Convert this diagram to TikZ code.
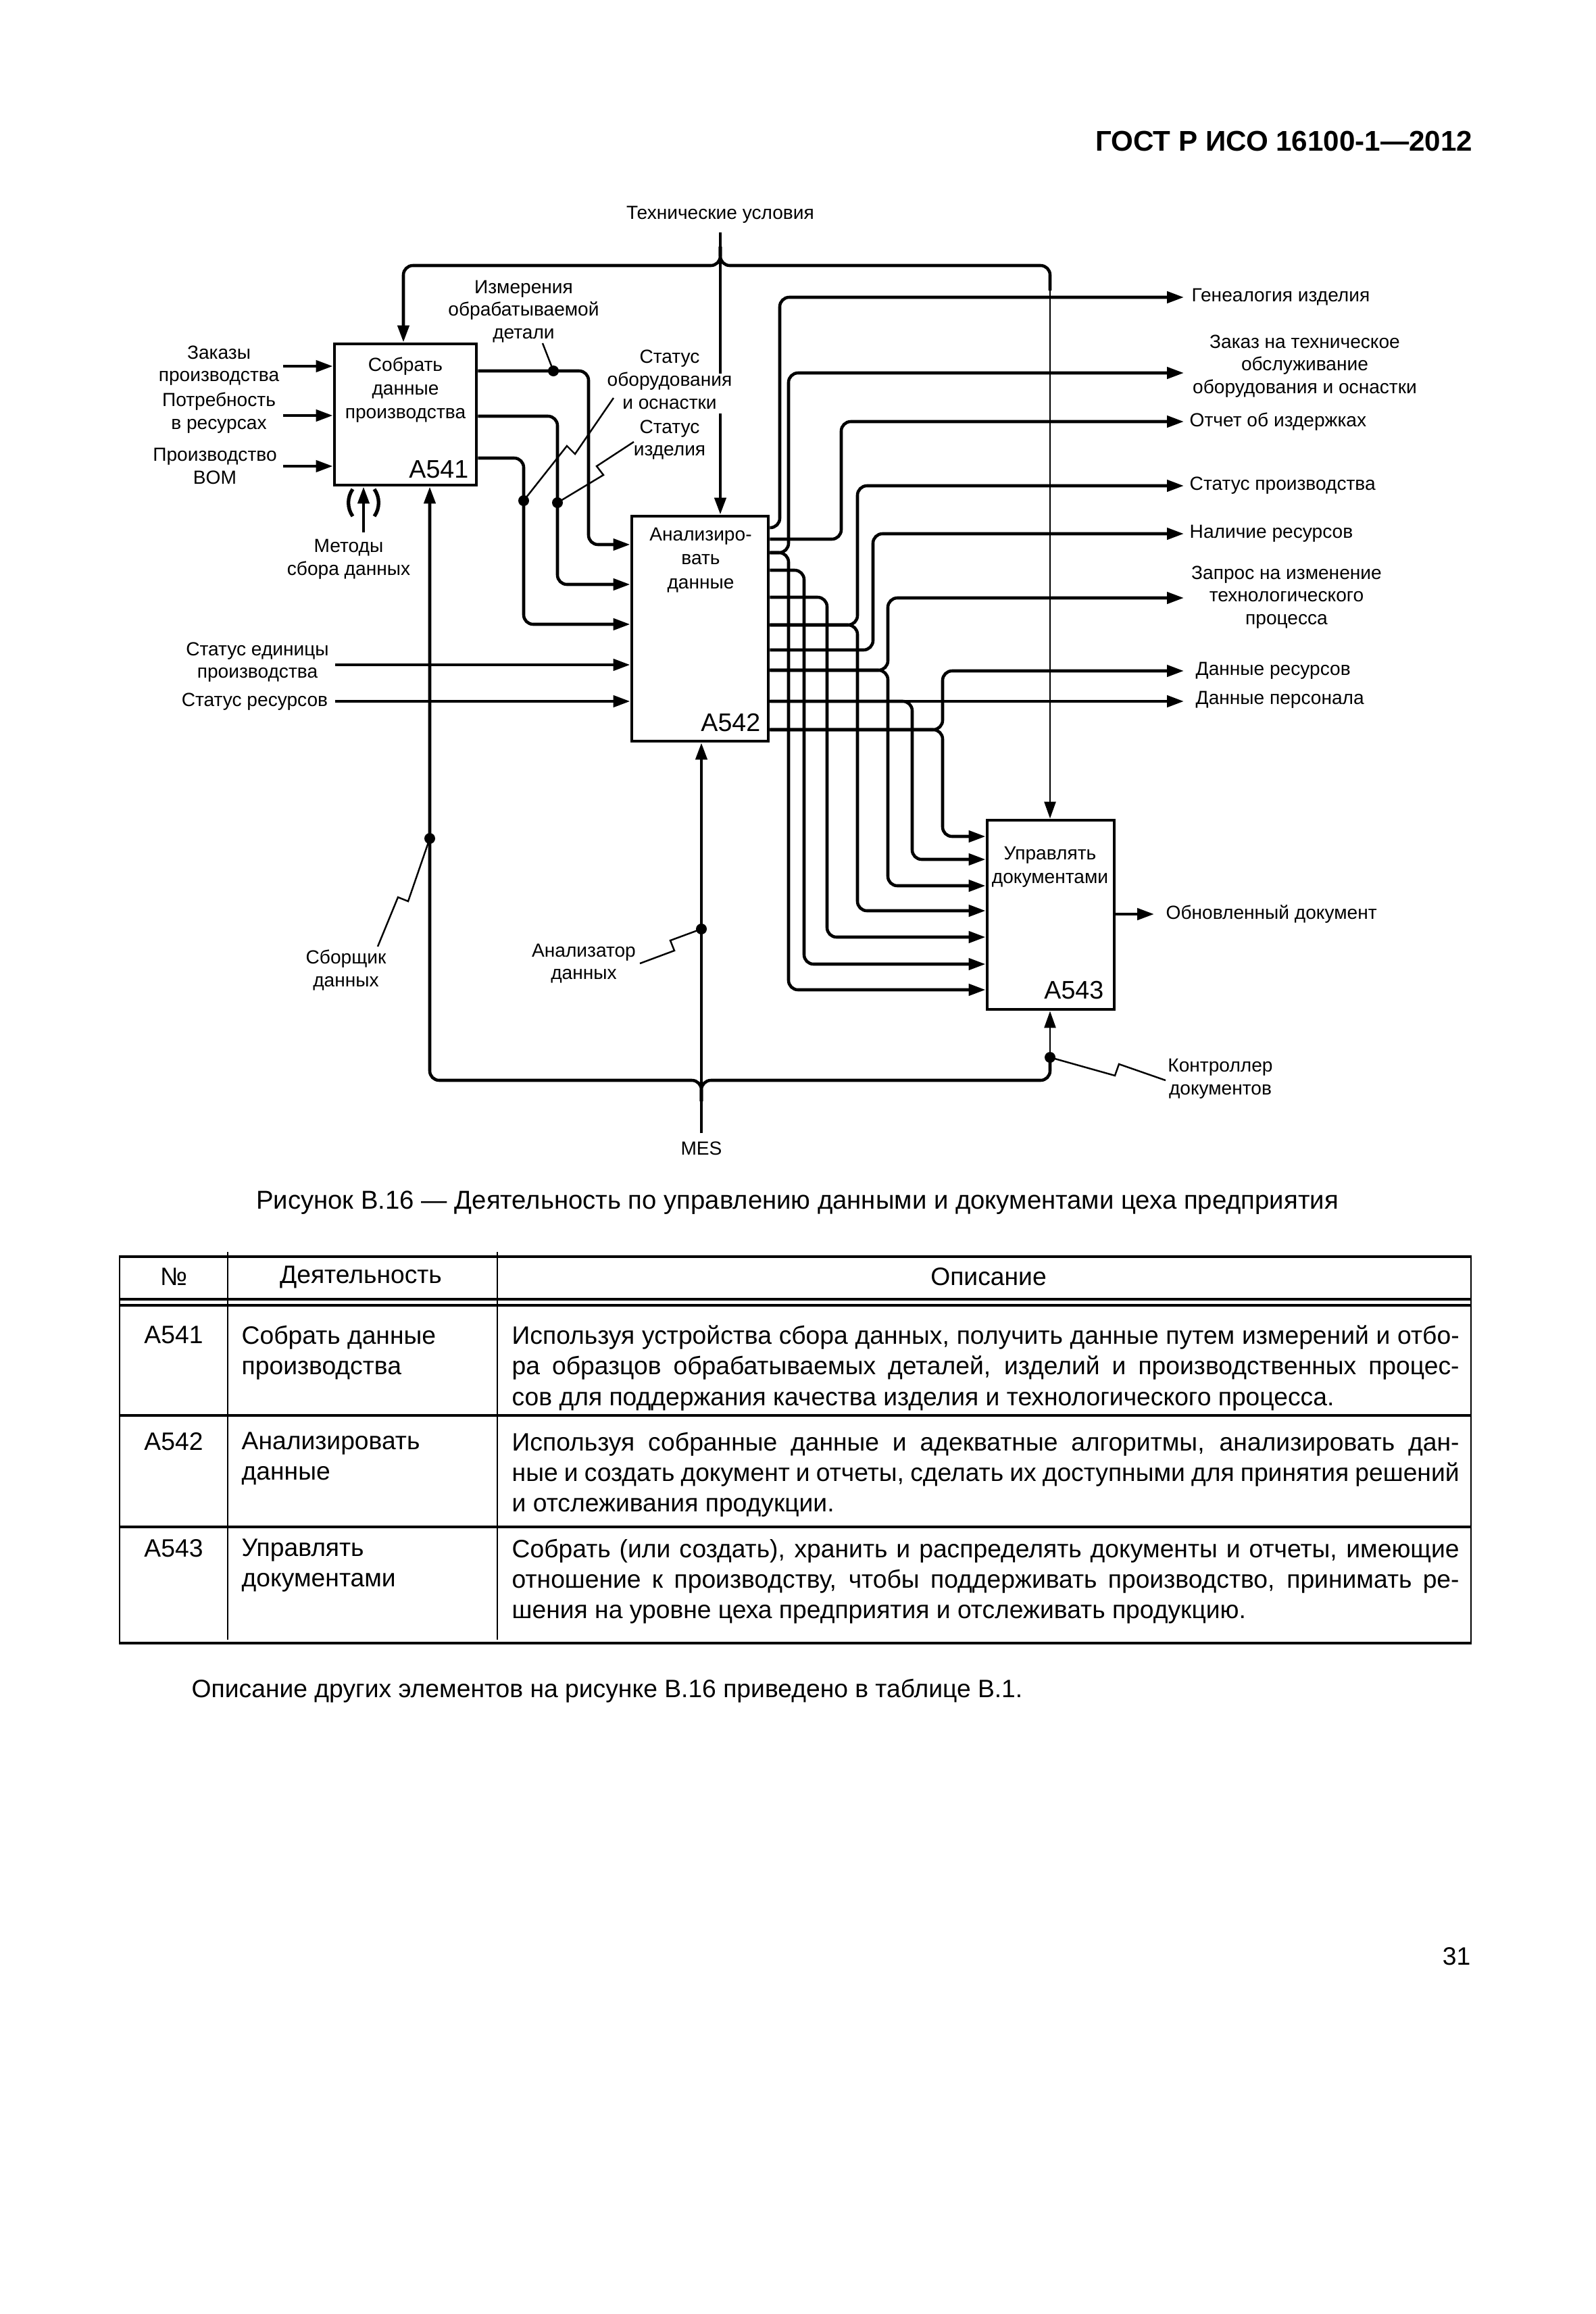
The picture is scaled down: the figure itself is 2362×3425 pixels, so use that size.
\documentclass[tikz,border=0pt]{standalone}
\usepackage{fontspec}
\setmainfont{Liberation Sans}
\usetikzlibrary{arrows.meta}

\tikzset{
  box/.style={draw, line width=1.4pt, inner sep=0pt},
  flow/.style={line width=1.3pt, rounded corners=1.4mm},
  thinflow/.style={line width=0.8pt},
  tip/.style={-{Triangle[length=2.5mm,width=1.7mm]}},
  lead/.style={line width=0.7pt},
  lbl/.style={font=\fontsize{8}{9.6}\selectfont, align=center, inner sep=0pt},
  boxtxt/.style={font=\fontsize{8}{10}\selectfont, align=center, inner sep=0pt},
  idn/.style={font=\fontsize{10.7}{12}\selectfont, inner sep=0pt, anchor=base east},
  tab/.style={font=\fontsize{10.6}{12.9}\selectfont, inner sep=0pt},
  rule/.style={line width=1pt},
}

\begin{document}
\begin{tikzpicture}[x=0.1mm,y=-0.1mm]
\useasboundingbox (0,0) rectangle (2362,3425);
%header
\node[font=\bfseries\fontsize{12}{14}\selectfont, anchor=east, inner sep=0pt] (gost) at (2180,209) {ГОСТ Р ИСО 16100-1—2012};
%boxes
\node[box, minimum width=21mm, minimum height=20.9mm] (a541) at (600,613.5) {};
\node[box, minimum width=20.2mm, minimum height=33.3mm] (a542) at (1036,930.5) {};
\node[box, minimum width=18.8mm, minimum height=28mm] (a543) at (1555,1354) {};
\node[boxtxt] (a541t) at (600,577) {Собрать\\данные\\производства};
\node[boxtxt] (a542t) at (1037,829) {Анализиро-\\вать\\данные};
\node[boxtxt] (a543t) at (1554,1283) {Управлять\\документами};
\node[idn] (a541n) at (694,707) {A541};
\node[idn] (a542n) at (1126,1082) {A542};
\node[idn] (a543n) at (1634,1478) {A543};
%labels
\node[lbl] (tu) at (1066,318) {Технические условия};
\node[lbl] (zak) at (324,541) {Заказы\\производства};
\node[lbl] (potr) at (324,611) {Потребность\\в ресурсах};
\node[lbl] (bom) at (318,690) {Производство\\BOM};
\node[lbl] (meth) at (516,828) {Методы\\сбора данных};
\node[lbl] (meas) at (775,461) {Измерения\\обрабатываемой\\детали};
\node[lbl] (sob) at (991,562) {Статус\\оборудования\\и оснастки};
\node[lbl] (siz) at (991,651) {Статус\\изделия};
\node[lbl] (sed) at (381,980) {Статус единицы\\производства};
\node[lbl] (sres) at (377,1039) {Статус ресурсов};
\node[lbl] (sbor) at (512,1436) {Сборщик\\данных};
\node[lbl] (anz) at (864,1426) {Анализатор\\данных};
\node[lbl] (mes) at (1038,1700) {MES};
\node[lbl] (ctrl) at (1806,1597) {Контроллер\\документов};
\node[lbl, anchor=west] (genea) at (1763,440) {Генеалогия изделия};
\node[lbl] (zto) at (1931,542) {Заказ на техническое\\обслуживание\\оборудования и оснастки};
\node[lbl, anchor=west] (cost) at (1760,624) {Отчет об издержках};
\node[lbl, anchor=west] (sprod) at (1760,719) {Статус производства};
\node[lbl, anchor=west] (nal) at (1760,790) {Наличие ресурсов};
\node[lbl] (zapr) at (1904,884) {Запрос на изменение\\технологического\\процесса};
\node[lbl, anchor=west] (dres) at (1769,993) {Данные ресурсов};
\node[lbl, anchor=west] (dpers) at (1769,1036) {Данные персонала};
\node[lbl, anchor=west] (upd) at (1725,1353) {Обновленный документ};
%controls
\draw[flow] ([yshift=-1.3mm]tu.south) -- (1066,553);
\draw[flow,tip] (1066,612) -- (a542.north -| tu);
\draw[flow,tip] (1066,365) -- (1066,393) -- (597,393) -- (a541.north -| 597,0);
\draw[flow] (1066,365) -- (1066,393) -- (1554,393) -- (1554,430);
\draw[thinflow,tip] (1554,420) -- (a543.north -| 1554,0);
%inputs
\draw[flow,tip] (419,542) -- (a541.west |- 0,542);
\draw[flow,tip] (419,615) -- (a541.west |- 0,615);
\draw[flow,tip] (419,690) -- (a541.west |- 0,690);
\draw[flow,tip] (496,984) -- (a542.west |- 0,984);
\draw[flow,tip] (496,1038) -- (a542.west |- 0,1038);
%a541 to a542
\draw[flow,tip] (a541.east |- 0,549) -- (871,549) -- (871,806) -- (a542.west |- 0,806);
\draw[flow,tip] (a541.east |- 0,616) -- (825,616) -- (825,865) -- (a542.west |- 0,865);
\draw[flow,tip] (a541.east |- 0,678) -- (775,678) -- (775,924) -- (a542.west |- 0,924);
%a542 outputs
\draw[flow,tip] (a542.east |- 0,781) -- (1154,781) -- (1154,440) -- (1752,440);
\draw[flow,tip] (a542.east |- 0,798) -- (1245,798) -- (1245,624) -- (1752,624);
\draw[flow,tip] (a542.east |- 0,818) -- (1167,818) -- (1167,552) -- (1752,552);
\draw[flow,tip] (a542.east |- 0,818) -- (1167,818) -- (1167,1465) -- (a543.west |- 0,1465);
\draw[flow,tip] (a542.east |- 0,844) -- (1190,844) -- (1190,1427) -- (a543.west |- 0,1427);
\draw[flow,tip] (a542.east |- 0,884) -- (1224,884) -- (1224,1387) -- (a543.west |- 0,1387);
\draw[flow,tip] (a542.east |- 0,925) -- (1269,925) -- (1269,719) -- (1752,719);
\draw[flow,tip] (a542.east |- 0,925) -- (1269,925) -- (1269,1348) -- (a543.west |- 0,1348);
\draw[flow,tip] (a542.east |- 0,962) -- (1292,962) -- (1292,790) -- (1752,790);
\draw[flow,tip] (a542.east |- 0,992) -- (1314,992) -- (1314,885) -- (1752,885);
\draw[flow,tip] (a542.east |- 0,992) -- (1314,992) -- (1314,1311) -- (a543.west |- 0,1311);
\draw[flow,tip] (a542.east |- 0,1038) -- (1752,1038);
\draw[flow,tip] (a542.east |- 0,1038) -- (1350,1038) -- (1350,1272) -- (a543.west |- 0,1272);
\draw[flow,tip] (a542.east |- 0,1080) -- (1395,1080) -- (1395,993) -- (1752,993);
\draw[flow,tip] (a542.east |- 0,1080) -- (1395,1080) -- (1395,1238) -- (a543.west |- 0,1238);
\draw[flow,tip] (a543.east |- 0,1353) -- (1708,1353);
%mechanisms
\draw[flow,tip] (538,788) -- (a541.south -| 538,0);
\draw[line width=1.5pt] (522,724) arc[start angle=145, end angle=215, radius=3.5mm];
\draw[line width=1.5pt] (554,724) arc[start angle=35, end angle=-35, radius=3.5mm];
\draw[flow,tip] ([yshift=1.2mm]mes.north) -- (a542.south -| mes);
\draw[flow,tip] (1038,1630) -- (1038,1599) -- (636,1599) -- (a541.south -| 636,0);
\draw[flow] (1038,1630) -- (1038,1599) -- (1554,1599) -- (1554,1570);
\draw[thinflow,tip] (1554,1580) -- (a543.south -| 1554,0);
%points
\fill (819,549) circle [radius=0.8mm];
\fill (775,741) circle [radius=0.8mm];
\fill (825,744) circle [radius=0.8mm];
\fill (636,1241) circle [radius=0.8mm];
\fill (1038,1375) circle [radius=0.8mm];
\fill (1554,1565) circle [radius=0.8mm];
%leaders
\draw[lead] (803,508) -- (819,549);
\draw[lead] (908,589) -- (851,672) -- (839,660) -- (775,741);
\draw[lead] (938,654) -- (883,690) -- (893,703) -- (825,744);
\draw[lead] (636,1241) -- (604,1334) -- (589,1328) -- (559,1401);
\draw[lead] (1038,1375) -- (992,1392) -- (998,1407) -- (947,1426);
\draw[lead] (1554,1565) -- (1650,1592) -- (1656,1575) -- (1725,1599);
%caption
\node[font=\fontsize{10.9}{13}\selectfont, inner sep=0pt] (cap) at (1180,1780) {Рисунок В.16 — Деятельность по управлению данными и документами цеха предприятия};
%table
\draw[line width=1.2pt] (176,1860) -- (2178,1860);
\draw[rule] (176,1923) -- (2178,1923);
\draw[rule] (176,1932) -- (2178,1932);
\draw[rule] (176,2095) -- (2178,2095);
\draw[rule] (176,2260) -- (2178,2260);
\draw[line width=1.3pt] (176,2432) -- (2178,2432);
\draw[line width=0.6pt] (177,1860) -- (177,2432);
\draw[line width=0.6pt] (2177,1860) -- (2177,2432);
\draw[line width=0.6pt] (337,1853) -- (337,2427);
\draw[line width=0.6pt] (736,1853) -- (736,2427);
\node[tab] (hno) at (257,1890) {№};
\node[tab] (hact) at (534,1890) {Деятельность};
\node[tab] (hdesc) at (1463,1890) {Описание};
\node[tab, anchor=base] (r1n) at (257,1988) {A541};
\node[tab, anchor=base] (r2n) at (257,2146) {A542};
\node[tab, anchor=base] (r3n) at (257,2304) {A543};
\node[tab, anchor=north west, align=left] (r1a) at (357,1961) {Собрать данные\\производства};
\node[tab, anchor=north west, align=left] (r2a) at (357,2119) {Анализировать\\данные};
\node[tab, anchor=north west, align=left] (r3a) at (357,2277) {Управлять\\документами};
\node[tab, anchor=north west, text width=140.2mm, align=justify] (r1d) at (757,1961) {Используя устройства сбора данных, получить данные путем измерений и отбо-\linebreak ра образцов обрабатываемых деталей, изделий и производственных процес-\linebreak сов для поддержания качества изделия и технологического процесса.};
\node[tab, anchor=north west, text width=140.2mm, align=justify] (r2d) at (757,2119) {Используя собранные данные и адекватные алгоритмы, анализировать дан-\linebreak ные и создать документ и отчеты, сделать их доступными для принятия решений\linebreak и отслеживания продукции.};
\node[tab, anchor=north west, text width=140.2mm, align=justify] (r3d) at (757,2277) {Собрать (или создать), хранить и распределять документы и отчеты, имеющие\linebreak отношение к производству, чтобы поддерживать производство, принимать ре-\linebreak шения на уровне цеха предприятия и отслеживать продукцию.};
%notes
\node[tab, anchor=west] (note) at (283,2503) {Описание других элементов на рисунке В.16 приведено в таблице В.1.};
\node[tab, anchor=east] (pno) at (2177,2896) {31};
\end{tikzpicture}
\end{document}
